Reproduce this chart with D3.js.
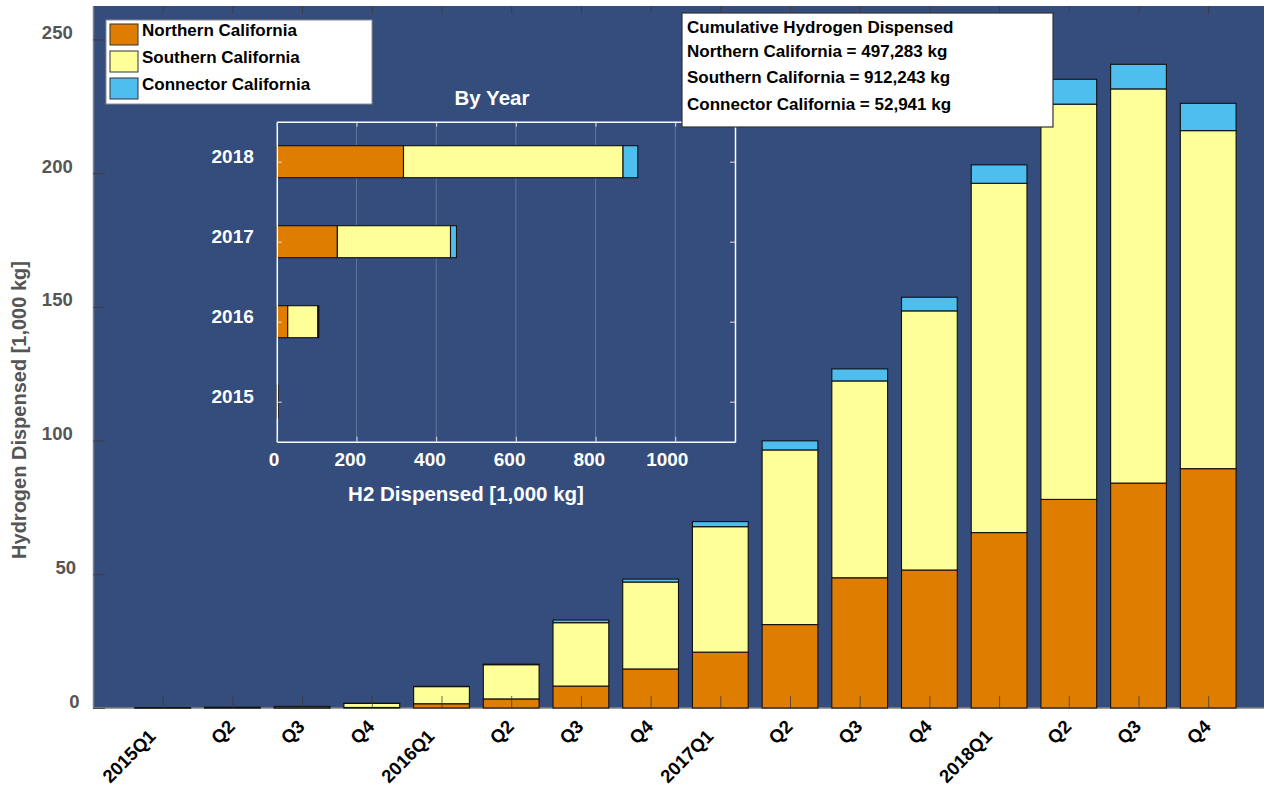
<!DOCTYPE html>
<html><head><meta charset="utf-8">
<script src="https://cdn.jsdelivr.net/npm/d3@7"></script>
<style>
body{margin:0;background:#fff}
svg{display:block}
text{font-family:"Liberation Sans",Arial,sans-serif;font-weight:bold}
</style>
</head><body>
<svg id="chart" width="1264" height="787"></svg>
<script>
// ---------- data ----------
const quarters = ["2015Q1","Q2","Q3","Q4","2016Q1","Q2","Q3","Q4","2017Q1","Q2","Q3","Q4","2018Q1","Q2","Q3","Q4"];
const northern  = [0.05,0.1,0.1,0.2,1.6,3.4,8.2,14.6,20.9,31.2,48.7,51.6,65.6,78.0,84.1,89.5];
const southern  = [0.1,0.2,0.5,1.5,6.4,12.8,23.7,32.5,46.9,65.3,73.6,96.9,130.6,147.8,147.4,126.4];
const connector = [0,0,0,0.05,0.1,0.2,1.0,1.1,1.9,3.4,4.5,5.1,6.9,9.3,9.2,10.2];
const yTicks = [0,50,100,150,200,250];

const years = ["2015","2016","2017","2018"];
const yearNorthern  = [0.5,27.5,152,318];
const yearSouthern  = [2.2,75.5,284,551];
const yearConnector = [0.05,2.5,15,37];
const yearTicks = [0,200,400,600,800,1000];

const seriesNames  = ["Northern California","Southern California","Connector California"];
const seriesColors = ["#DF7D00","#FFFF99","#4DBEEE"];
const summaryTitle = "Cumulative Hydrogen Dispensed";
const summaryLines = ["Northern California = 497,283 kg","Southern California = 912,243 kg","Connector California = 52,941 kg"];
const yTitle = "Hydrogen Dispensed [1,000 kg]";
const insetTitle = "By Year";
const insetXTitle = "H2 Dispensed [1,000 kg]";

// ---------- setup ----------
const svg = d3.select("#chart");
const BG = "#354D7D";
const keys = ["n","s","c"];

// ---------- main axes ----------
const L = 93, T = 6, B = 708;
const x = d3.scaleLinear().domain([0,17]).range([L, L + 17*69.7]);
const y = d3.scaleLinear().domain([0,262.5]).range([B, T]);
const step = x(1) - x(0);
const bw = step*0.8;

svg.append("rect").attr("x",L).attr("y",T).attr("width",x(17)-L).attr("height",B-T).attr("fill",BG);

const rows = quarters.map((q,i)=>({i:i+1, n:northern[i], s:southern[i], c:connector[i]}));
const stack = d3.stack().keys(keys)(rows);

svg.append("line").attr("x1",L).attr("x2",x(17)).attr("y1",B).attr("y2",B).attr("stroke","#808080").attr("stroke-width",1.5);

const gBars = svg.append("g");
stack.forEach((layer,j)=>{
  gBars.selectAll(null).data(layer).join("rect")
    .attr("x",d=>x(d.data.i)-bw/2)
    .attr("width",bw)
    .attr("y",d=>y(d[1]))
    .attr("height",d=>Math.max(0,y(d[0])-y(d[1])))
    .attr("fill",seriesColors[j])
    .attr("stroke","#111").attr("stroke-width",1.1);
});

// left axis
const gy = svg.append("g").attr("transform",`translate(${L},0)`)
  .call(d3.axisLeft(y).tickValues(yTicks).tickSize(-12).tickSizeOuter(0).tickPadding(0));
gy.select(".domain").attr("stroke","#808080").attr("stroke-width",1.5);
gy.selectAll(".tick line").attr("stroke","#3a3a3a").attr("stroke-opacity",0.8);
gy.selectAll(".tick text").attr("fill","#555").attr("font-size",18.5).attr("dy",0).attr("y",-1)
  .attr("text-anchor","start")
  .each(function(){
    const w = this.getComputedTextLength();
    d3.select(this).attr("x", (82.9 - 0.33*w) - w - L);
  });

// bottom axis
const gx = svg.append("g").attr("transform",`translate(0,${B})`)
  .call(d3.axisBottom(x).tickValues(d3.range(1,17)).tickFormat(i=>quarters[i-1]).tickSize(-12).tickSizeOuter(0));
gx.select(".domain").remove();
gx.selectAll(".tick line").attr("stroke","#3a3a3a").attr("stroke-opacity",0.75);
gx.selectAll(".tick text").attr("fill","#000").attr("font-size",18.5).attr("text-anchor","end").attr("dy",0).attr("y",0)
  .each(function(){
    const w = this.getComputedTextLength();
    const d = 0.33*w*0.7071;
    d3.select(this).attr("transform",`translate(${9-d},${14+d}) rotate(-45)`);
  });

// top ticks
const gt = svg.append("g").attr("transform",`translate(0,${T})`)
  .call(d3.axisTop(x).tickValues(d3.range(1,17)).tickFormat("").tickSize(-8).tickSizeOuter(0));
gt.select(".domain").remove();
gt.selectAll(".tick line").attr("stroke","#3a3a3a").attr("stroke-opacity",0.75);

// y title
svg.append("text").attr("transform","translate(26,410) rotate(-90)")
  .attr("text-anchor","middle").attr("fill","#555").attr("font-size",20).text(yTitle);

// ---------- inset ----------
const iL = 276.8, iR = 735, iT = 121.7, iB = 441.7;
const ix = d3.scaleLinear().domain([0,1150]).range([iL,iR]);
const iy = d3.scaleLinear().domain([0.5,4.5]).range([iB,iT]);
const bh = (iy(0.5)-iy(0.9));

const gi = svg.append("g");
gi.selectAll(null).data(yearTicks.filter(v=>v>0)).join("line")
  .attr("x1",d=>ix(d)).attr("x2",d=>ix(d)).attr("y1",iT).attr("y2",iB)
  .attr("stroke","#fff").attr("stroke-opacity",0.22).attr("stroke-width",1);

const yrows = years.map((yr,i)=>({i:i+1, n:yearNorthern[i], s:yearSouthern[i], c:yearConnector[i]}));
const ystack = d3.stack().keys(keys)(yrows);
ystack.forEach((layer,j)=>{
  gi.selectAll(null).data(layer).join("rect")
    .attr("y",d=>iy(d.data.i)-bh/2)
    .attr("height",bh)
    .attr("x",d=>ix(d[0]))
    .attr("width",d=>Math.max(0,ix(d[1])-ix(d[0])))
    .attr("fill",seriesColors[j])
    .attr("stroke","#111").attr("stroke-width",1.1);
});

const giy = gi.append("g").attr("transform",`translate(${iL},0)`)
  .call(d3.axisLeft(iy).tickValues([1,2,3,4]).tickFormat(i=>years[i-1]).tickSize(-5).tickSizeOuter(0).tickPadding(23));
giy.select(".domain").attr("stroke","#fff").attr("stroke-width",1.5);
giy.selectAll(".tick line").attr("stroke","#ddd");
giy.selectAll(".tick text").attr("fill","#fff").attr("font-size",19).attr("dy",0).attr("y",1);

const giyR = gi.append("g").attr("transform",`translate(${iR},0)`)
  .call(d3.axisRight(iy).tickValues([1,2,3,4]).tickFormat("").tickSize(-5).tickSizeOuter(0));
giyR.select(".domain").attr("stroke","#fff").attr("stroke-width",1.5);
giyR.selectAll(".tick line").attr("stroke","#ddd");

const gix = gi.append("g").attr("transform",`translate(0,${iB})`)
  .call(d3.axisBottom(ix).tickValues(yearTicks).tickFormat(d3.format("d")).tickSize(-5).tickSizeOuter(0));
gix.select(".domain").attr("stroke","#fff").attr("stroke-width",1.5);
gix.selectAll(".tick line").attr("stroke","#ddd");
gix.selectAll(".tick text").attr("fill","#fff").attr("font-size",19).attr("dy",0).attr("y",24)
  .each(function(){
    const w = this.getComputedTextLength();
    d3.select(this).attr("x", -1.5 - 0.165*w);
  });

const gixT = gi.append("g").attr("transform",`translate(0,${iT})`)
  .call(d3.axisTop(ix).tickValues(yearTicks).tickFormat("").tickSize(-5).tickSizeOuter(0));
gixT.select(".domain").attr("stroke","#fff").attr("stroke-width",1.5);
gixT.selectAll(".tick line").attr("stroke","#ddd");

gi.append("text").attr("x",492).attr("y",105).attr("text-anchor","middle")
  .attr("fill","#fff").attr("font-size",20.5).text(insetTitle);
gi.append("text").attr("x",466).attr("y",501).attr("text-anchor","middle")
  .attr("fill","#fff").attr("font-size",20.5).text(insetXTitle);

// ---------- legend ----------
const lg = svg.append("g");
lg.append("rect").attr("x",106).attr("y",20).attr("width",266).attr("height",84)
  .attr("fill","#fff").attr("stroke","#8c8c8c").attr("stroke-width",1);
seriesNames.forEach((nm,j)=>{
  const yy = 24 + j*27;
  lg.append("rect").attr("x",110).attr("y",yy).attr("width",28).attr("height",21)
    .attr("fill",seriesColors[j]).attr("stroke","#333").attr("stroke-width",1);
  lg.append("text").attr("x",142).attr("y",yy+11.8).attr("font-size",17).attr("fill","#000").text(nm);
});

// ---------- summary box ----------
const sb = svg.append("g");
sb.append("rect").attr("x",682).attr("y",13).attr("width",371).attr("height",114)
  .attr("fill","#fff").attr("stroke","#333").attr("stroke-width",1.2);
const sbY = [33.3,57.3,83.3,110];
[summaryTitle].concat(summaryLines).forEach((t,k)=>{
  sb.append("text").attr("x",687).attr("y",sbY[k]).attr("font-size",17).attr("fill","#000").text(t);
});
</script>
</body></html>
